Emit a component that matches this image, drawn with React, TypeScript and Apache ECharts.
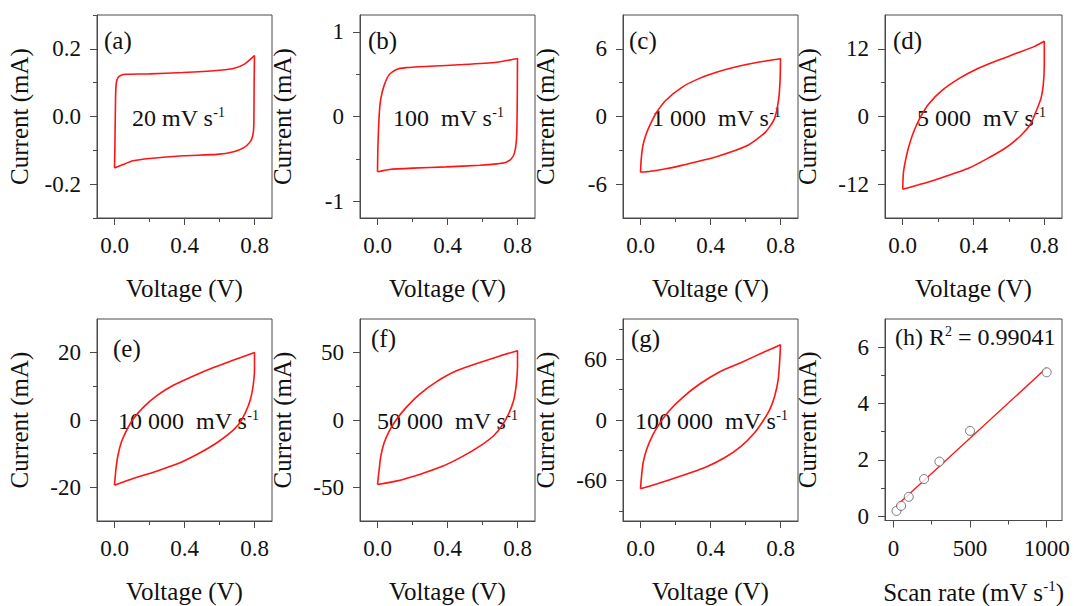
import React, { useEffect, useRef } from 'react';
import * as echarts from 'echarts';

const FONT = "'Liberation Serif', 'Times New Roman', serif";
const TEXT = '#111111';
const AXIS = '#4a4a4a';
const RED = '#ff1414';

// CV loops: [voltage (V), current (mA)]
const cvA: number[][] = [
  [0, -0.152], [0.002, -0.097], [0.006, 0.053], [0.01, 0.098], [0.019, 0.114], [0.038, 0.122], [0.067, 0.125],
  [0.2, 0.126], [0.39, 0.13], [0.585, 0.136], [0.68, 0.142], [0.74, 0.154], [0.8, 0.18],
  [0.798, 0.102], [0.796, -0.027], [0.79, -0.057], [0.775, -0.075], [0.739, -0.092], [0.681, -0.104],
  [0.585, -0.112], [0.393, -0.116], [0.201, -0.124], [0.106, -0.131], [0.048, -0.142], [0, -0.152],
];
const cvB: number[][] = [
  [0, -0.653], [0.002, -0.384], [0.0096, 0.012], [0.019, 0.21], [0.038, 0.368], [0.067, 0.495], [0.106, 0.554],
  [0.163, 0.578], [0.297, 0.594], [0.489, 0.614], [0.681, 0.642], [0.8, 0.685],
  [0.799, 0.3], [0.797, -0.1], [0.793, -0.3], [0.783, -0.43], [0.765, -0.5], [0.735, -0.54], [0.681, -0.56],
  [0.585, -0.577], [0.393, -0.596], [0.201, -0.61], [0.067, -0.626], [0.0096, -0.65], [0, -0.653],
];
const cvC: number[][] = [
  [0, -4.94], [0.004, -3.8], [0.0135, -2.6], [0.029, -1.71], [0.048, -0.96], [0.087, 0.24], [0.145, 1.44],
  [0.241, 2.63], [0.337, 3.38], [0.434, 3.92], [0.53, 4.34], [0.627, 4.67], [0.723, 4.94], [0.8, 5.12],
  [0.798, 3.38], [0.79, 1.59], [0.765, -0.21], [0.713, -1.41], [0.607, -2.6], [0.434, -3.56],
  [0.241, -4.31], [0.145, -4.64], [0.048, -4.88], [0, -4.94],
];
const cvD: number[][] = [
  [0, -12.9], [0.004, -10.0], [0.017, -7.6], [0.033, -5.5], [0.061, -2.8], [0.1, -0.12], [0.148, 2.27],
  [0.224, 4.67], [0.32, 6.76], [0.416, 8.38], [0.531, 9.88], [0.647, 11.25], [0.742, 12.39], [0.8, 13.35],
  [0.8, 9.16], [0.794, 5.57], [0.781, 3.17], [0.752, 0.78], [0.723, -1.32], [0.666, -3.41], [0.57, -5.81],
  [0.378, -9.1], [0.186, -11.2], [0.09, -12.1], [0, -12.9],
];
const cvE: number[][] = [
  [0, -19.36], [0.008, -14.7], [0.019, -10.7], [0.038, -6.75], [0.067, -3.28], [0.106, 0.2], [0.163, 3.67],
  [0.24, 7.15], [0.336, 10.3], [0.451, 13.1], [0.566, 15.6], [0.681, 17.8], [0.8, 20.05],
  [0.8, 15.1], [0.792, 10.1], [0.777, 6.15], [0.748, 2.18], [0.71, -1.29], [0.662, -3.77], [0.585, -6.75],
  [0.489, -9.73], [0.374, -12.7], [0.24, -15.2], [0.106, -17.4], [0, -19.36],
];
const cvF: number[][] = [
  [0, -47.9], [0.0096, -36.7], [0.019, -26.8], [0.038, -16.9], [0.067, -8.2], [0.106, 0], [0.163, 9.2],
  [0.24, 19.1], [0.336, 28.3], [0.451, 36.5], [0.585, 42.7], [0.7, 47.6], [0.8, 51.4],
  [0.8, 40.2], [0.792, 25.3], [0.777, 14.1], [0.748, 4.2], [0.71, -4.5], [0.662, -11.9], [0.585, -19.4],
  [0.489, -26.8], [0.374, -34.2], [0.24, -40.4], [0.106, -45.4], [0, -47.9],
];
const cvG: number[][] = [
  [0, -68.1], [0.006, -55.5], [0.015, -42.3], [0.035, -29.1], [0.067, -15.9], [0.106, -4.3], [0.163, 8.9],
  [0.24, 22.2], [0.336, 35.4], [0.451, 47.6], [0.576, 56.9], [0.691, 66.1], [0.8, 74.4],
  [0.796, 60.2], [0.787, 40.3], [0.767, 23.8], [0.739, 10.6], [0.7, -1], [0.652, -12.6], [0.576, -25.8],
  [0.48, -37.4], [0.365, -47.3], [0.23, -55.5], [0.096, -63.1], [0, -68.1],
];
const cvLoops = [cvA, cvB, cvC, cvD, cvE, cvF, cvG];

// Panel (h): peak current vs scan rate
const scanRates = [20, 50, 100, 200, 300, 500, 1000];
const peakCurrents = [0.19, 0.37, 0.69, 1.32, 1.94, 3.03, 5.11];
const fitLine: number[][] = [[20, 0.37], [1000, 5.27]];
const rSquared = '0.99041';

// Labels
const panelLetters = ['(a)', '(b)', '(c)', '(d)', '(e)', '(f)', '(g)', '(h)'];
const rateNumbers = ['20 ', '100  ', '1 000  ', '5 000  ', '10 000  ', '50 000  ', '100 000  '];

// Axis ranges and ticks
const voltageRange = [-0.1, 0.9];
const voltageMajor = [0, 0.4, 0.8];
const voltageMinor = [0.2, 0.6];
const currentRange = [[-0.3, 0.3], [-1.2, 1.2], [-9, 9], [-18, 18], [-30, 30], [-75, 75], [-100, 100], [-0.15, 7]];
const currentMajor = [[-0.2, 0, 0.2], [-1, 0, 1], [-6, 0, 6], [-12, 0, 12], [-20, 0, 20], [-50, 0, 50], [-60, 0, 60], [0, 2, 4, 6]];
const currentMinor = [[-0.3, -0.1, 0.1, 0.3], [-0.5, 0.5], [-3, 3], [-6, 6], [-10, 10], [-25, 25], [-90, -30, 30, 90], [1, 3, 5]];
const scanRange = [-55, 1100];
const scanMajor = [0, 500, 1000];
const scanMinor = [250, 750];

// Layout
const colLeft = [97, 360, 623, 885];
const colWidth = [175, 175, 175, 177];
const rowTop = [15, 319];
const rowHeight = [203, 202];
const letterPos = [[104, 40], [368, 40], [629, 40], [893, 40], [113, 348], [371, 338], [631, 338], [895, 337]];
const ratePos = [[132, 118], [393, 118], [652, 118], [917, 118], [118, 421], [377, 421], [635, 421]];

export default function App() {
  const ref = useRef<HTMLDivElement>(null);
  useEffect(() => {
    if (!ref.current) return;
    const chart = echarts.init(ref.current, null, { renderer: 'svg' });

    const grids: any[] = [];
    const xAxes: any[] = [];
    const yAxes: any[] = [];
    const xMinorAxes: any[] = [];
    const yMinorAxes: any[] = [];
    const series: any[] = [];
    const graphics: any[] = [];

    const labelStyle = { fontFamily: FONT, fontSize: 23, color: TEXT };
    const nameStyle = { fontFamily: FONT, fontSize: 25, color: TEXT };

    for (let i = 0; i < 8; i++) {
      const col = i % 4;
      const row = Math.floor(i / 4);
      grids.push({
        left: colLeft[col], top: rowTop[row], width: colWidth[col], height: rowHeight[row],
        show: true, borderColor: AXIS, borderWidth: 1, backgroundColor: 'transparent',
      });
      const isH = i === 7;
      const xr = isH ? scanRange : voltageRange;
      const xMaj = isH ? scanMajor : voltageMajor;
      const xMin = isH ? scanMinor : voltageMinor;
      xAxes.push({
        type: 'value', gridIndex: i, min: xr[0], max: xr[1], position: 'bottom',
        axisLine: { show: true, onZero: false, lineStyle: { color: AXIS, width: 1 } },
        axisTick: { show: true, inside: false, length: 7, customValues: xMaj, lineStyle: { color: AXIS } },
        axisLabel: {
          ...labelStyle, margin: 16, customValues: xMaj,
          formatter: (v: number) => (isH ? String(v) : v.toFixed(1)),
        },
        splitLine: { show: false },
        name: isH ? '{a|Scan rate (mV s}{s|-1}{a|)}' : 'Voltage (V)',
        nameLocation: 'middle', nameGap: 58,
        nameTextStyle: {
          ...nameStyle,
          rich: {
            a: { fontFamily: FONT, fontSize: 25, color: TEXT, lineHeight: 28 },
            s: { fontFamily: FONT, fontSize: 15, color: TEXT, lineHeight: 16, verticalAlign: 'top' },
          },
        },
      });
      xMinorAxes.push({
        type: 'value', gridIndex: i, min: xr[0], max: xr[1], position: 'bottom',
        axisLine: { show: false, onZero: false },
        axisTick: { show: true, inside: false, length: 4, customValues: xMin, lineStyle: { color: AXIS } },
        axisLabel: { show: false },
        splitLine: { show: false },
      });
      const yr = currentRange[i];
      yAxes.push({
        type: 'value', gridIndex: i, min: yr[0], max: yr[1], position: 'left',
        axisLine: { show: true, onZero: false, lineStyle: { color: AXIS, width: 1 } },
        axisTick: { show: true, inside: false, length: 7, customValues: currentMajor[i], lineStyle: { color: AXIS } },
        axisLabel: {
          ...labelStyle, margin: 16, customValues: currentMajor[i],
          formatter: (v: number) => (i === 0 ? v.toFixed(1) : String(v)),
        },
        splitLine: { show: false },
        name: 'Current (mA)', nameLocation: 'middle', nameGap: 65,
        nameTextStyle: nameStyle,
      });
      yMinorAxes.push({
        type: 'value', gridIndex: i, min: yr[0], max: yr[1], position: 'left',
        axisLine: { show: false, onZero: false },
        axisTick: { show: true, inside: false, length: 4, customValues: currentMinor[i], lineStyle: { color: AXIS } },
        axisLabel: { show: false },
        splitLine: { show: false },
      });

      if (!isH) {
        series.push({
          type: 'line', xAxisIndex: i, yAxisIndex: i, data: cvLoops[i], showSymbol: false,
          smooth: 0.2, lineStyle: { color: RED, width: 1.6 }, silent: true,
        });
        graphics.push({
          type: 'text', x: ratePos[i][0], y: ratePos[i][1],
          style: {
            text: `{m|${rateNumbers[i]}mV s}{s|-1}`,
            verticalAlign: 'middle',
            rich: {
              m: { fontFamily: FONT, fontSize: 24, fill: TEXT, lineHeight: 26 },
              s: { fontFamily: FONT, fontSize: 14, fill: TEXT, lineHeight: 16, verticalAlign: 'top' },
            },
          },
        });
        graphics.push({
          type: 'text', x: letterPos[i][0], y: letterPos[i][1],
          style: { text: panelLetters[i], fontFamily: FONT, fontSize: 25, fill: TEXT, verticalAlign: 'middle' },
        });
      } else {
        series.push({
          type: 'line', xAxisIndex: i, yAxisIndex: i, data: fitLine, showSymbol: false,
          lineStyle: { color: RED, width: 1.4 }, silent: true, z: 2,
        });
        series.push({
          type: 'scatter', xAxisIndex: i, yAxisIndex: i,
          data: scanRates.map((s, k) => [s, peakCurrents[k]]),
          symbol: 'circle', symbolSize: 9,
          itemStyle: { color: '#ffffff', borderColor: '#5a5a5a', borderWidth: 1 }, silent: true, z: 3,
        });
        graphics.push({
          type: 'text', x: letterPos[i][0], y: letterPos[i][1],
          style: {
            text: `{m|${panelLetters[i]} R}{s|2}{m| = ${rSquared}}`,
            verticalAlign: 'middle',
            rich: {
              m: { fontFamily: FONT, fontSize: 24, fill: TEXT, lineHeight: 26 },
              s: { fontFamily: FONT, fontSize: 14, fill: TEXT, lineHeight: 16, verticalAlign: 'top' },
            },
          },
        });
      }
    }

    chart.setOption({
      animation: false,
      backgroundColor: '#ffffff',
      grid: grids,
      xAxis: [...xAxes, ...xMinorAxes],
      yAxis: [...yAxes, ...yMinorAxes],
      series,
      graphic: graphics,
    });
    return () => chart.dispose();
  }, []);
  return (
    <div
      ref={ref}
      style={{ position: 'fixed', left: 0, top: 0, width: 1074, height: 606, background: '#fff' }}
    />
  );
}
